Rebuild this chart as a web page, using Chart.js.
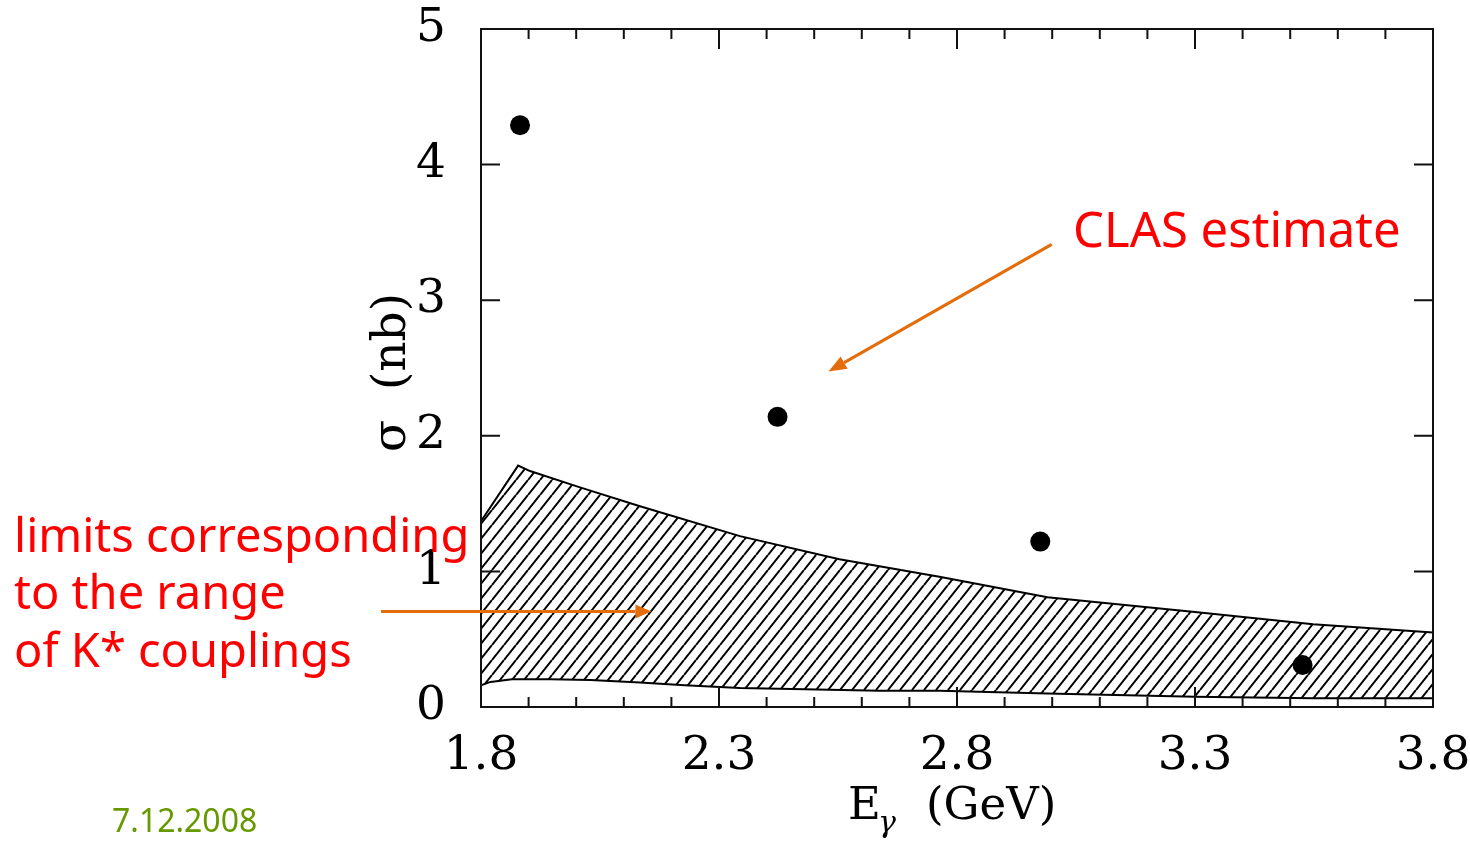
<!DOCTYPE html>
<html>
<head>
<meta charset="utf-8">
<title>sigma vs E_gamma</title>
<script src="https://cdn.jsdelivr.net/npm/chart.js@4.4.0/dist/chart.umd.min.js"></script>
<style>
  html, body { margin: 0; padding: 0; background: #fff; }
  canvas { display: block; }
</style>
</head>
<body>
<canvas id="sigma" width="1470" height="842"></canvas>
<script>
// CLAS estimate: photon energy (GeV) and cross section (nb)
const clasE     = [1.882, 2.423, 2.975, 3.526];
const clasSigma = [4.29, 2.14, 1.22, 0.31];

// hatched band, upper and lower edge
const upperE     = [1.80, 1.878, 1.903, 2.008, 2.134, 2.344, 2.553, 2.763, 2.99, 3.30, 3.548, 3.80];
const upperSigma = [1.37, 1.78, 1.74, 1.62, 1.48, 1.26, 1.09, 0.96, 0.81, 0.70, 0.61, 0.55];
const lowerE     = [1.80, 1.82, 1.865, 1.945, 2.03, 2.134, 2.228, 2.344, 2.48, 2.637, 2.763, 2.99, 3.30, 3.548, 3.80];
const lowerSigma = [0.16, 0.185, 0.205, 0.205, 0.20, 0.18, 0.16, 0.14, 0.13, 0.12, 0.12, 0.10, 0.075, 0.065, 0.065];

// labelled ticks
const xMajor = [1.8, 2.3, 2.8, 3.3, 3.8];
const yTicks = [0, 1, 2, 3, 4, 5];

// arrow ends in data units [E, sigma]
const clasArrow = [[2.999, 3.412], [2.530, 2.474]];
const bandArrow = [[1.590, 0.704], [2.158, 0.704]];

const serif = "'DejaVu Serif', 'Liberation Serif', serif";
const hand = "'Noto Sans', 'DejaVu Sans', sans-serif";
const orange = '#e46c0a';

function isMajor(v) {
  return xMajor.some(m => Math.abs(m - v) < 1e-6);
}

// diagonal hatch pattern
const hatch = document.createElement('canvas');
hatch.width = 12;
hatch.height = 15;
const hc = hatch.getContext('2d');
hc.strokeStyle = '#000';
hc.lineWidth = 2;
hc.beginPath();
for (const dx of [-12, 0, 12]) {
  hc.moveTo(dx, 15);
  hc.lineTo(dx + 12, 0);
}
hc.stroke();
const hatchFill = document.getElementById('sigma').getContext('2d').createPattern(hatch, 'repeat');

function arrow(ctx, x0, y0, x1, y1, head, half) {
  const ang = Math.atan2(y1 - y0, x1 - x0);
  const bx = x1 - head * Math.cos(ang), by = y1 - head * Math.sin(ang);
  ctx.beginPath();
  ctx.moveTo(x0, y0);
  ctx.lineTo(bx, by);
  ctx.stroke();
  ctx.beginPath();
  ctx.moveTo(x1, y1);
  ctx.lineTo(bx + half * Math.sin(ang), by - half * Math.cos(ang));
  ctx.lineTo(bx - half * Math.sin(ang), by + half * Math.cos(ang));
  ctx.closePath();
  ctx.fill();
}

// no extra room for labels hanging past the plot box
function noOverhang(s) {
  s.paddingTop = 0;
  s.paddingBottom = 0;
  s.paddingLeft = 0;
  s.paddingRight = 0;
}

// box with inward ticks on all four sides
const frame = {
  id: 'frame',
  afterDatasetsDraw(chart) {
    const {ctx, chartArea: a, scales: {x, y}} = chart;
    ctx.save();
    ctx.strokeStyle = '#111';
    ctx.lineWidth = 2;
    ctx.strokeRect(a.left, a.top, a.right - a.left, a.bottom - a.top);
    ctx.beginPath();
    x.ticks.forEach(t => {
      const px = x.getPixelForValue(t.value);
      const len = isMajor(t.value) ? 20 : 10;
      ctx.moveTo(px, a.bottom);
      ctx.lineTo(px, a.bottom - len);
      ctx.moveTo(px, a.top);
      ctx.lineTo(px, a.top + len);
    });
    y.ticks.forEach(t => {
      const py = y.getPixelForValue(t.value);
      ctx.moveTo(a.left, py);
      ctx.lineTo(a.left + 19, py);
      ctx.moveTo(a.right, py);
      ctx.lineTo(a.right - 19, py);
    });
    ctx.stroke();
    ctx.restore();
  },
  afterDraw(chart) {
    const {ctx, chartArea: a, scales: {x, y}} = chart;
    ctx.save();

    // x title: E_gamma (GeV)
    ctx.fillStyle = '#000';
    ctx.textAlign = 'left';
    ctx.textBaseline = 'alphabetic';
    ctx.font = '45px ' + serif;
    ctx.fillText('E', 848, a.bottom + 112);
    ctx.fillText('(GeV)', 926, a.bottom + 112);
    ctx.font = 'italic 30px ' + serif;
    ctx.fillText('γ', 878, a.bottom + 125);

    // y title: sigma (nb), rotated
    ctx.font = '47px ' + serif;
    ctx.translate(a.left - 76, 452);
    ctx.rotate(-Math.PI / 2);
    ctx.fillText('σ', 0, 0);
    ctx.fillText('(nb)', 62, 0);
    ctx.setTransform(1, 0, 0, 1, 0, 0);

    // notes
    ctx.fillStyle = '#ff0000';
    ctx.font = '49px ' + hand;
    ctx.fillText('CLAS estimate', 1073, 247);
    ctx.font = '47px ' + hand;
    ctx.fillText('limits corresponding', 14, 552);
    ctx.fillText('to the range', 14, 609);
    ctx.fillText('of K* couplings', 14, 667);

    ctx.fillStyle = '#669900';
    ctx.font = '32px ' + hand;
    ctx.fillText('7.12.2008', 112, 832);

    // arrows
    ctx.strokeStyle = orange;
    ctx.fillStyle = orange;
    ctx.lineWidth = 3;
    const p = pt => [x.getPixelForValue(pt[0]), y.getPixelForValue(pt[1])];
    let s = p(clasArrow[0]), e = p(clasArrow[1]);
    arrow(ctx, s[0], s[1], e[0], e[1], 18, 7);
    s = p(bandArrow[0]);
    e = p(bandArrow[1]);
    arrow(ctx, s[0], s[1], e[0], e[1], 16, 7);
    ctx.restore();
  }
};

const toXY = (xs, ys) => xs.map((v, i) => ({x: v, y: ys[i]}));

new Chart(document.getElementById('sigma'), {
  type: 'line',
  data: {
    datasets: [
      {
        label: 'CLAS estimate',
        data: toXY(clasE, clasSigma),
        showLine: false,
        pointRadius: 10,
        pointBackgroundColor: '#000',
        pointBorderWidth: 0
      },
      {
        label: 'upper limit',
        data: toXY(upperE, upperSigma),
        borderColor: '#000',
        borderWidth: 2,
        pointRadius: 0,
        tension: 0,
        fill: '+1',
        backgroundColor: hatchFill
      },
      {
        label: 'lower limit',
        data: toXY(lowerE, lowerSigma),
        borderColor: '#000',
        borderWidth: 2,
        pointRadius: 0,
        tension: 0,
        fill: false
      }
    ]
  },
  options: {
    responsive: false,
    animation: false,
    layout: {padding: {top: 29, right: 37, left: 0, bottom: 0}},
    plugins: {legend: {display: false}, tooltip: {enabled: false}},
    scales: {
      x: {
        type: 'linear',
        min: 1.8,
        max: 3.8,
        grid: {display: false, drawTicks: false},
        border: {display: false},
        ticks: {
          stepSize: 0.1,
          autoSkip: false,
          maxRotation: 0,
          padding: 22,
          color: '#000',
          font: {family: serif, size: 47},
          callback: v => isMajor(v) ? v.toFixed(1) : ''
        },
        afterFit: s => { s.height = 135; noOverhang(s); }
      },
      y: {
        min: 0,
        max: 5,
        grid: {display: false, drawTicks: false},
        border: {display: false},
        afterBuildTicks: s => { s.ticks = yTicks.map(v => ({value: v})); },
        ticks: {
          padding: 35,
          color: '#000',
          font: {family: serif, size: 47}
        },
        afterFit: s => { s.width = 481; noOverhang(s); }
      }
    }
  },
  plugins: [frame]
});
</script>
</body>
</html>
